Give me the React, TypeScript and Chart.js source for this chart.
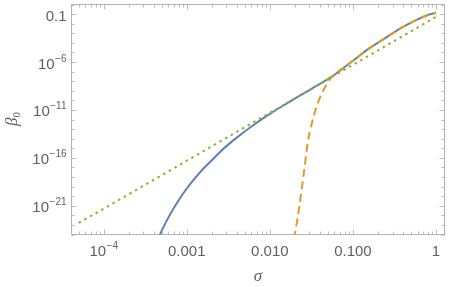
import React, { useEffect, useRef } from "react";
import { Chart, registerables } from "chart.js";
Chart.register(...registerables);

// ---- data (log–log plot) ----
const sigmaBlue = [4.4e-4, 5e-4, 6.3e-4, 8e-4, 1e-3, 1.25e-3, 1.6e-3, 2e-3, 2.5e-3, 3.2e-3, 4e-3, 6.3e-3, 0.01, 0.016, 0.025, 0.04, 0.063, 0.1, 0.16, 0.25, 0.4, 0.63, 0.8, 1];
const betaBlue = [2.1e-25, 2.5e-24, 1.26e-22, 3.8e-21, 6.3e-20, 7.2e-19, 8.1e-18, 5.6e-17, 3.9e-16, 2.7e-15, 1.29e-14, 2.5e-13, 3.8e-12, 4.7e-11, 4.7e-10, 5.1e-9, 6.3e-8, 1.35e-6, 2.95e-5, 3.5e-4, 4.5e-3, 0.034, 0.08, 0.138];

const sigmaOrange = [0.0174, 0.02, 0.02265, 0.02564, 0.02864, 0.032, 0.0367, 0.0423, 0.0556, 0.0753, 0.1, 0.16, 0.25, 0.4, 0.63, 0.8, 1];
const betaOrange = [1e-27, 1e-24, 8.7e-22, 2.5e-18, 4.2e-15, 4.1e-13, 2.5e-11, 5.5e-10, 2.6e-8, 2.3e-7, 1.35e-6, 2.95e-5, 3.5e-4, 4.5e-3, 0.034, 0.08, 0.138];

const sigmaGreen = [5e-5, 1e-4, 1e-3, 0.01, 0.1, 1];
const betaGreen = [1.6e-23, 5e-22, 5e-17, 5e-12, 5e-7, 0.05];

const xMin = 4.1e-5;
const xMax = 1.265;
const yMin = 1e-24;
const yMax = 1;

const xTickValues = [1e-4, 1e-3, 1e-2, 1e-1, 1];
const xTickBase = ["10", "0.001", "0.010", "0.100", "1"];
const xTickExp = ["\u22124", "", "", "", ""];

const yTickValues = [1e-1, 1e-6, 1e-11, 1e-16, 1e-21];
const yTickBase = ["0.1", "10", "10", "10", "10"];
const yTickExp = ["", "\u22126", "\u221211", "\u221216", "\u221221"];

const xTitle = "\u03c3";
const yTitle = "\u03b2";
const yTitleSub = "0";

const BLUE = "#5E81B5";
const ORANGE = "#E19C24";
const GREEN = "#8FB131";
const FRAME = "#b4b4b4";
const TICK = "#bdbdbd";
const LABEL = "#5f5f5f";

const pts = (xs: number[], ys: number[]) => xs.map((x, i) => ({ x, y: ys[i] }));

const BASE_FONT = '15px "Liberation Sans", Arial, sans-serif';
const EXP_FONT = '10px "Liberation Sans", Arial, sans-serif';

function drawSup(ctx: CanvasRenderingContext2D, base: string, exp: string, x: number, y: number, align: "center" | "right") {
  ctx.font = BASE_FONT;
  const wb = ctx.measureText(base).width;
  ctx.font = EXP_FONT;
  const we = exp ? ctx.measureText(exp).width + 0.5 : 0;
  const total = wb + we;
  const start = align === "center" ? x - total / 2 : x - total;
  ctx.textAlign = "left";
  ctx.textBaseline = "alphabetic";
  ctx.font = BASE_FONT;
  ctx.fillText(base, start, y);
  if (exp) {
    ctx.font = EXP_FONT;
    ctx.fillText(exp, start + wb + 0.5, y - 7);
  }
}

const framePlugin = {
  id: "mmaFrame",
  beforeDatasetsDraw(chart: any) {
    const { ctx, chartArea: a, scales } = chart;
    const xs = scales.x;
    const ys = scales.y;
    ctx.save();
    ctx.lineWidth = 1;
    ctx.strokeStyle = TICK;
    // x ticks (bottom & top)
    for (let k = -5; k <= 0; k++) {
      for (let m = 1; m <= 9; m++) {
        const v = m * Math.pow(10, k);
        if (v < xMin || v > xMax) continue;
        const px = Math.round(xs.getPixelForValue(v)) + 0.5;
        const len = m === 1 ? 5 : 3;
        ctx.beginPath();
        ctx.moveTo(px, a.bottom);
        ctx.lineTo(px, a.bottom - len);
        ctx.moveTo(px, a.top);
        ctx.lineTo(px, a.top + len);
        ctx.stroke();
      }
    }
    // y ticks (left & right)
    for (let k = -24; k <= 0; k++) {
      const v = Math.pow(10, k);
      const py = Math.round(ys.getPixelForValue(v)) + 0.5;
      const major = (k + 1) % 5 === 0;
      const len = major ? 5 : 3;
      ctx.beginPath();
      ctx.moveTo(a.left, py);
      ctx.lineTo(a.left + len, py);
      ctx.moveTo(a.right, py);
      ctx.lineTo(a.right - len, py);
      ctx.stroke();
    }
    ctx.strokeStyle = FRAME;
    ctx.strokeRect(a.left, a.top, a.right - a.left, a.bottom - a.top);
    ctx.restore();
  },
  afterDraw(chart: any) {
    const { ctx, chartArea: a, scales } = chart;
    const xs = scales.x;
    const ys = scales.y;
    ctx.save();
    ctx.fillStyle = LABEL;
    xTickValues.forEach((v, i) => {
      const px = xs.getPixelForValue(v);
      drawSup(ctx, xTickBase[i], xTickExp[i], px, 256, "center");
    });
    yTickValues.forEach((v, i) => {
      const py = ys.getPixelForValue(v);
      drawSup(ctx, yTickBase[i], yTickExp[i], a.left - 5, py + 6.5, "right");
    });
    // x title
    ctx.font = 'italic 17px "Liberation Serif", serif';
    ctx.textAlign = "center";
    ctx.textBaseline = "alphabetic";
    ctx.fillText(xTitle, (a.left + a.right) / 2, 281);
    // y title rotated
    ctx.translate(13, 119);
    ctx.rotate(-Math.PI / 2);
    ctx.font = 'italic 17px "Liberation Serif", serif';
    const wb = ctx.measureText(yTitle).width;
    ctx.font = '11px "Liberation Serif", serif';
    const ws = ctx.measureText(yTitleSub).width;
    const start = -(wb + ws) / 2;
    ctx.textAlign = "left";
    ctx.font = 'italic 17px "Liberation Serif", serif';
    ctx.fillText(yTitle, start, 4);
    ctx.font = '11px "Liberation Serif", serif';
    ctx.fillText(yTitleSub, start + wb, 7);
    ctx.restore();
  },
};

export default function App() {
  const ref = useRef<HTMLCanvasElement | null>(null);
  useEffect(() => {
    if (!ref.current) return;
    const chart = new Chart(ref.current, {
      type: "scatter",
      data: {
        datasets: [
          {
            data: pts(sigmaBlue, betaBlue),
            showLine: true,
            borderColor: BLUE,
            borderWidth: 2,
            pointRadius: 0,
            cubicInterpolationMode: "monotone",
            order: 3,
          },
          {
            data: pts(sigmaOrange, betaOrange),
            showLine: true,
            borderColor: ORANGE,
            borderWidth: 2,
            borderDash: [8, 4.5],
            pointRadius: 0,
            cubicInterpolationMode: "monotone",
            order: 2,
          },
          {
            data: pts(sigmaGreen, betaGreen),
            showLine: true,
            borderColor: GREEN,
            borderWidth: 2,
            borderDash: [2.5, 4],
            pointRadius: 0,
            order: 1,
          },
        ],
      },
      options: {
        responsive: false,
        animation: false,
        devicePixelRatio: 1,
        layout: { padding: { top: 4.5, right: 5.5, left: 0, bottom: 0 } },
        plugins: { legend: { display: false }, tooltip: { enabled: false } },
        elements: { point: { radius: 0 } },
        scales: {
          x: {
            type: "logarithmic",
            min: xMin,
            max: xMax,
            grid: { display: false },
            border: { display: false },
            ticks: { display: false },
            afterFit: (s: any) => {
              s.height = 52.5;
            },
          },
          y: {
            type: "logarithmic",
            min: yMin,
            max: yMax,
            grid: { display: false },
            border: { display: false },
            ticks: { display: false },
            afterFit: (s: any) => {
              s.width = 71.5;
            },
          },
        },
      } as any,
      plugins: [framePlugin],
    });
    return () => chart.destroy();
  }, []);
  return (
    <div style={{ position: "absolute", left: 0, top: 0, width: 450, height: 287, background: "#fff" }}>
      <canvas ref={ref} width={450} height={287} />
    </div>
  );
}
